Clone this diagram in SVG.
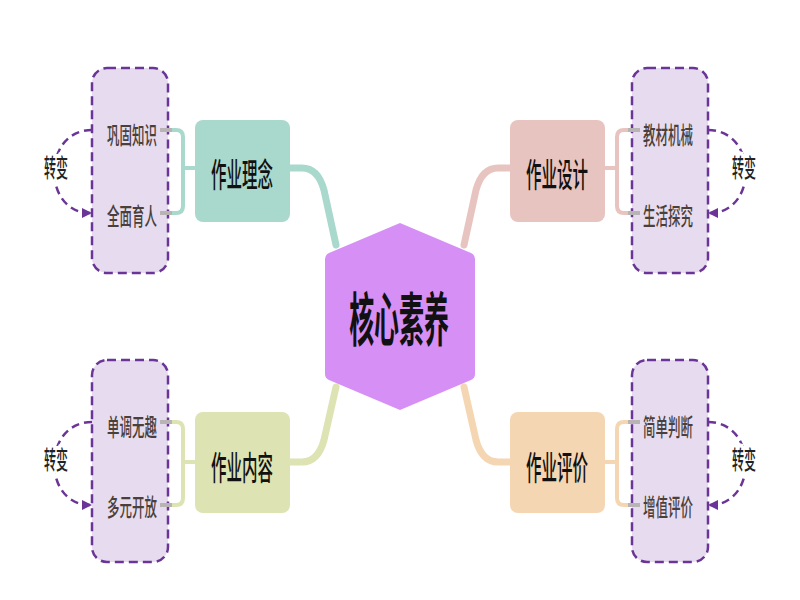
<svg xmlns="http://www.w3.org/2000/svg" width="800" height="600" viewBox="0 0 800 600">
<defs>
<marker id="arr" viewBox="0 0 10 10" refX="8" refY="5" markerWidth="4" markerHeight="4" orient="auto">
<path d="M0,0 L10,5 L0,10 z" fill="#6a3596"/>
</marker>
<style>
.box{fill:#e7dcef;stroke:#6a3596;stroke-width:2.5;stroke-dasharray:9 5}
.arc{fill:none;stroke:#6a3596;stroke-width:2.5;stroke-dasharray:8 5}
.item{font-family:"Noto Sans CJK SC","Noto Sans",sans-serif;font-size:24px;fill:#4a3f3a;text-anchor:middle;dominant-baseline:central;font-weight:500}
.node{font-family:"Noto Sans CJK SC","Noto Sans",sans-serif;font-size:33px;fill:#111;text-anchor:middle;dominant-baseline:central;font-weight:500}
.lbl{font-family:"Noto Sans CJK SC","Noto Sans",sans-serif;font-size:25px;fill:#222;text-anchor:middle;dominant-baseline:central;stroke:#fff;stroke-width:8;paint-order:stroke;font-weight:500}
.stub{stroke:#b9b4b4;stroke-width:4;fill:none}
.br{fill:none;stroke-width:4}
.main{fill:none;stroke-width:7;stroke-linecap:round}
</style>
</defs>
<rect width="800" height="600" fill="#fff"/>
<g id="connectors">
<path class="main" stroke="#a9d9cc" d="M290,168 L302,168 Q318,168 324,190 L336,245"/>
<path class="main" stroke="#e8c4c0" d="M510,168 L498,168 Q482,168 476,190 L464,245"/>
<path class="main" stroke="#dde3b2" d="M290,462 L302,462 Q318,462 324,440 L336,387"/>
<path class="main" stroke="#f5d6b3" d="M510,462 L498,462 Q482,462 476,440 L464,387"/>
<path class="br" stroke="#a9d9cc" d="M172,130 L176,130 Q183,130 183,137 L183,206 Q183,213 176,213 L172,213 M183,168 L195,168"/>
<path class="br" stroke="#e8c4c0" d="M628,130 L624,130 Q617,130 617,137 L617,206 Q617,213 624,213 L628,213 M617,168 L605,168"/>
<path class="br" stroke="#dde3b2" d="M172,422 L176,422 Q183,422 183,429 L183,498 Q183,505 176,505 L172,505 M183,462 L195,462"/>
<path class="br" stroke="#f5d6b3" d="M628,422 L624,422 Q617,422 617,429 L617,498 Q617,505 624,505 L628,505 M617,462 L605,462"/>
</g>
<g id="box-tl"><rect class="box" x="92" y="68" width="76" height="205" rx="15"/></g>
<g id="box-tr"><rect class="box" x="632" y="68" width="76" height="205" rx="15"/></g>
<g id="box-bl"><rect class="box" x="92" y="360" width="76" height="202" rx="15"/></g>
<g id="box-br"><rect class="box" x="632" y="360" width="76" height="202" rx="15"/></g>
<g id="stubs">
<path class="stub" d="M160,130 L172,130 M160,213 L172,213 M160,422 L172,422 M160,505 L172,505"/>
<path class="stub" d="M640,130 L628,130 M640,213 L628,213 M640,422 L628,422 M640,505 L628,505"/>
</g>
<g id="arcs">
<path class="arc" d="M92,130 C42,130 42,213 90,213" marker-end="url(#arr)"/>
<path class="arc" d="M708,130 C758,130 758,213 710,213" marker-end="url(#arr)"/>
<path class="arc" d="M92,422 C42,422 42,505 90,505" marker-end="url(#arr)"/>
<path class="arc" d="M708,422 C758,422 758,505 710,505" marker-end="url(#arr)"/>
</g>
<g id="center">
<path d="M400,223 L471,253 Q475,255 475,259 L475,374 Q475,378 471,380 L400,410 L329,380 Q325,378 325,374 L325,259 Q325,255 329,253 Z" fill="#d68ff5"/>
<text class="node" transform="translate(399,316) scale(0.43,1)" style="font-size:58px;font-weight:bold">核心素养</text>
</g>
<g id="n-linian">
<rect x="195" y="120" width="95" height="102" rx="8" fill="#a9d9cc"/>
<text class="node" transform="translate(242,172) scale(0.47,1)">作业理念</text>
</g>
<g id="n-sheji">
<rect x="510" y="120" width="95" height="102" rx="8" fill="#e8c4c0"/>
<text class="node" transform="translate(557,172) scale(0.47,1)">作业设计</text>
</g>
<g id="n-neirong">
<rect x="195" y="412" width="95" height="101" rx="8" fill="#dde3b2"/>
<text class="node" transform="translate(242,465) scale(0.47,1)">作业内容</text>
</g>
<g id="n-pingjia">
<rect x="510" y="412" width="95" height="101" rx="8" fill="#f5d6b3"/>
<text class="node" transform="translate(557,465) scale(0.47,1)">作业评价</text>
</g>
<g id="items">
<text class="item" transform="translate(132,134) scale(0.52,1)">巩固知识</text>
<text class="item" transform="translate(132,215) scale(0.52,1)">全面育人</text>
<text class="item" transform="translate(668,134) scale(0.52,1)">教材机械</text>
<text class="item" transform="translate(668,215) scale(0.52,1)">生活探究</text>
<text class="item" transform="translate(132,426) scale(0.52,1)">单调无趣</text>
<text class="item" transform="translate(132,506) scale(0.52,1)">多元开放</text>
<text class="item" transform="translate(668,426) scale(0.52,1)">简单判断</text>
<text class="item" transform="translate(668,506) scale(0.52,1)">增值评价</text>
</g>
<g id="labels">
<text class="lbl" transform="translate(56,166) scale(0.48,1)">转变</text>
<text class="lbl" transform="translate(744,166) scale(0.48,1)">转变</text>
<text class="lbl" transform="translate(56,458) scale(0.48,1)">转变</text>
<text class="lbl" transform="translate(744,458) scale(0.48,1)">转变</text>
</g>
</svg>
